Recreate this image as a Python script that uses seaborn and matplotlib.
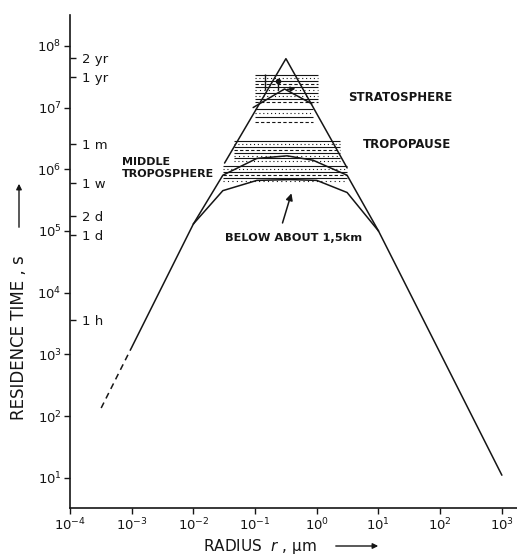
import numpy as np
import pandas as pd
import matplotlib
matplotlib.use("Agg")
import matplotlib.pyplot as plt
import seaborn as sns

# ---- residence-time curves (radius in micrometres, time in seconds) ----
rise_r = [1e-3, 1e-2]
rise_t = [1.3e3, 1.3e5]
rise_dash_r = [3.2e-4, 1e-3]
rise_dash_t = [1.35e2, 1.3e3]

fall_r = [10.0, 1000.0]
fall_t = [1.0e5, 1.1e1]

lower_trop_r = [1e-2, 0.03, 0.107, 0.37, 1.0, 3.1, 10.0]
lower_trop_t = [1.3e5, 4.5e5, 6.6e5, 6.8e5, 6.6e5, 4.2e5, 1.0e5]

middle_trop_r = [1e-2, 0.03, 0.107, 0.33, 0.87, 3.1, 10.0]
middle_trop_t = [1.3e5, 8.0e5, 1.5e6, 1.65e6, 1.4e6, 8.0e5, 1.0e5]

strat_r = [0.032, 0.316, 3.1]
strat_t = [1.26e6, 6.2e7, 1.05e6]

tropopause_r = [0.093, 0.30, 0.83]
tropopause_t = [1.0e7, 2.0e7, 1.15e7]

# ---- observed ranges, drawn as horizontal hatching ----
strat_obs_t = [3.4e7, 3.05e7, 2.72e7, 2.44e7, 2.18e7, 1.95e7, 1.74e7, 1.56e7, 1.39e7, 1.25e7]
strat_obs_r = [0.1, 1.05]
strat_low_obs_t = [9.5e6, 8.2e6, 7.1e6, 5.9e6]
strat_low_obs_r = [0.1, 0.87]
tropopause_obs_t = [2.9e6, 2.6e6, 2.33e6, 2.09e6, 1.86e6, 1.67e6, 1.5e6, 1.34e6]
tropopause_obs_r = [0.045, 2.4]
trop_obs_t = [1.15e6, 1.02e6, 9.1e5, 8.1e5, 7.3e5, 6.5e5]
trop_obs_r = [0.03, 3.1]

# ---- secondary time scale ----
time_ticks = [6.3e7, 3.156e7, 2.6e6, 6.05e5, 1.728e5, 8.64e4, 3.6e3]
time_labels = ["2 yr", "1 yr", "1 m", "1 w", "2 d", "1 d", "1 h"]

x_ticks = [1e-4, 1e-3, 1e-2, 1e-1, 1e0, 1e1, 1e2, 1e3]
x_ticklabels = [r"$10^{-4}$", r"$10^{-3}$", r"$10^{-2}$", r"$10^{-1}$",
                r"$10^{0}$", r"$10^{1}$", r"$10^{2}$", r"$10^{3}$"]
y_ticks = [1e1, 1e2, 1e3, 1e4, 1e5, 1e6, 1e7, 1e8]
y_ticklabels = [r"$10^{1}$", r"$10^{2}$", r"$10^{3}$", r"$10^{4}$",
                r"$10^{5}$", r"$10^{6}$", r"$10^{7}$", r"$10^{8}$"]

sns.set_style("ticks")
plt.rcParams["font.family"] = ["DejaVu Sans"]
plt.rcParams["mathtext.fontset"] = "dejavusans"

INK = "#151515"
fig = plt.figure(figsize=(5.17, 5.55), dpi=100)
ax = fig.add_axes([70 / 517, 47 / 555, 447 / 517, 493 / 555])
ax.set_xscale("log")
ax.set_yscale("log")
ax.set_xlim(1e-4, 10 ** 3.245)
ax.set_ylim(10 ** 0.51, 10 ** 8.5)

curves = [
    (rise_r, rise_t, "-"),
    (rise_dash_r, rise_dash_t, (0, (4, 3))),
    (fall_r, fall_t, "-"),
    (lower_trop_r, lower_trop_t, "-"),
    (middle_trop_r, middle_trop_t, "-"),
    (strat_r, strat_t, "-"),
    (tropopause_r, tropopause_t, "-"),
]
for r, t, ls in curves:
    df = pd.DataFrame({"r": r, "t": t})
    sns.lineplot(data=df, x="r", y="t", ax=ax, sort=False, estimator=None,
                 color=INK, lw=1.1, linestyle=ls)

# horizontal hatching of observed ranges
hatch_styles = ["-", (0, (1, 2.5)), "-", (0, (3, 2)), "-", (0, (1, 3))]
for levels, (r0, r1) in [(strat_obs_t, strat_obs_r),
                         (strat_low_obs_t, strat_low_obs_r),
                         (tropopause_obs_t, tropopause_obs_r),
                         (trop_obs_t, trop_obs_r)]:
    for i, t in enumerate(levels):
        ax.hlines(t, r0, r1, colors=INK, lw=0.8,
                  linestyles=[hatch_styles[i % len(hatch_styles)]])

# individual stratospheric observations
ax.errorbar([0.145], [2.7e7], yerr=[[0.75e7], [0.8e7]], fmt="none",
            ecolor=INK, elinewidth=1.0, capsize=0)
ax.errorbar([0.235], [2.7e7], yerr=[[0.75e7], [0.0]], fmt="o", ms=3,
            color=INK, ecolor=INK, elinewidth=1.0, capsize=0)
ax.annotate("", xy=(0.50, 2.05e7), xytext=(0.30, 1.95e7),
            arrowprops=dict(arrowstyle="-|>", color=INK, lw=1.0,
                            mutation_scale=7))

# axes styling
for side in ("top", "right"):
    ax.spines[side].set_visible(False)
for side in ("left", "bottom"):
    ax.spines[side].set_linewidth(1.2)
    ax.spines[side].set_color(INK)
ax.set_xticks(x_ticks)
ax.set_xticklabels(x_ticklabels)
ax.set_yticks(y_ticks)
ax.set_yticklabels(y_ticklabels)
ax.minorticks_off()
ax.tick_params(axis="both", direction="out", length=4, width=1.0,
               colors=INK, labelsize=9.5, pad=2)
ax.set_xlabel("")
ax.set_ylabel("")

# time scale on the inner side of the y axis
tax = ax.twinx()
tax.set_yscale("log")
tax.set_ylim(ax.get_ylim())
tax.spines["right"].set_position(("axes", 0.0))
for side in ("top", "left", "bottom", "right"):
    tax.spines[side].set_visible(False)
tax.set_yticks(time_ticks)
tax.set_yticklabels(time_labels)
tax.minorticks_off()
tax.tick_params(axis="y", direction="out", length=4, width=1.0,
                colors=INK, labelsize=9.5, pad=5)

# region labels
lab = dict(color=INK, fontweight="bold", ha="left", va="center")
ax.text(3.2, 1.45e7, "STRATOSPHERE", fontsize=8.5, **lab)
ax.text(5.6, 2.5e6, "TROPOPAUSE", fontsize=8.5, **lab)
ax.text(7.0e-4, 1.05e6, "MIDDLE\nTROPOSPHERE", fontsize=8,
        linespacing=1.2, **lab)
ax.text(0.032, 7.6e4, "BELOW ABOUT 1,5km", fontsize=8.2, **lab)
ax.annotate("", xy=(0.40, 4.5e5), xytext=(0.27, 1.22e5),
            arrowprops=dict(arrowstyle="-|>", color=INK, lw=1.1,
                            mutation_scale=10))

# axis titles with pointing arrows
fig.text(203 / 517, 1 - 546 / 555, r"RADIUS  $r$ , µm", fontsize=11,
         color=INK, ha="left", va="center")
fig.patches.append(matplotlib.patches.FancyArrowPatch(
    (333 / 517, 1 - 546 / 555), (381 / 517, 1 - 546 / 555),
    transform=fig.transFigure, arrowstyle="-|>", mutation_scale=8,
    color=INK, lw=1.0))
fig.text(19 / 517, 1 - 420 / 555, "RESIDENCE TIME , s", fontsize=12,
         color=INK, ha="center", va="bottom", rotation=90)
fig.patches.append(matplotlib.patches.FancyArrowPatch(
    (19 / 517, 1 - 230 / 555), (19 / 517, 1 - 181 / 555),
    transform=fig.transFigure, arrowstyle="-|>", mutation_scale=8,
    color=INK, lw=1.0))

fig.savefig("out.png", dpi=100, facecolor="white")
